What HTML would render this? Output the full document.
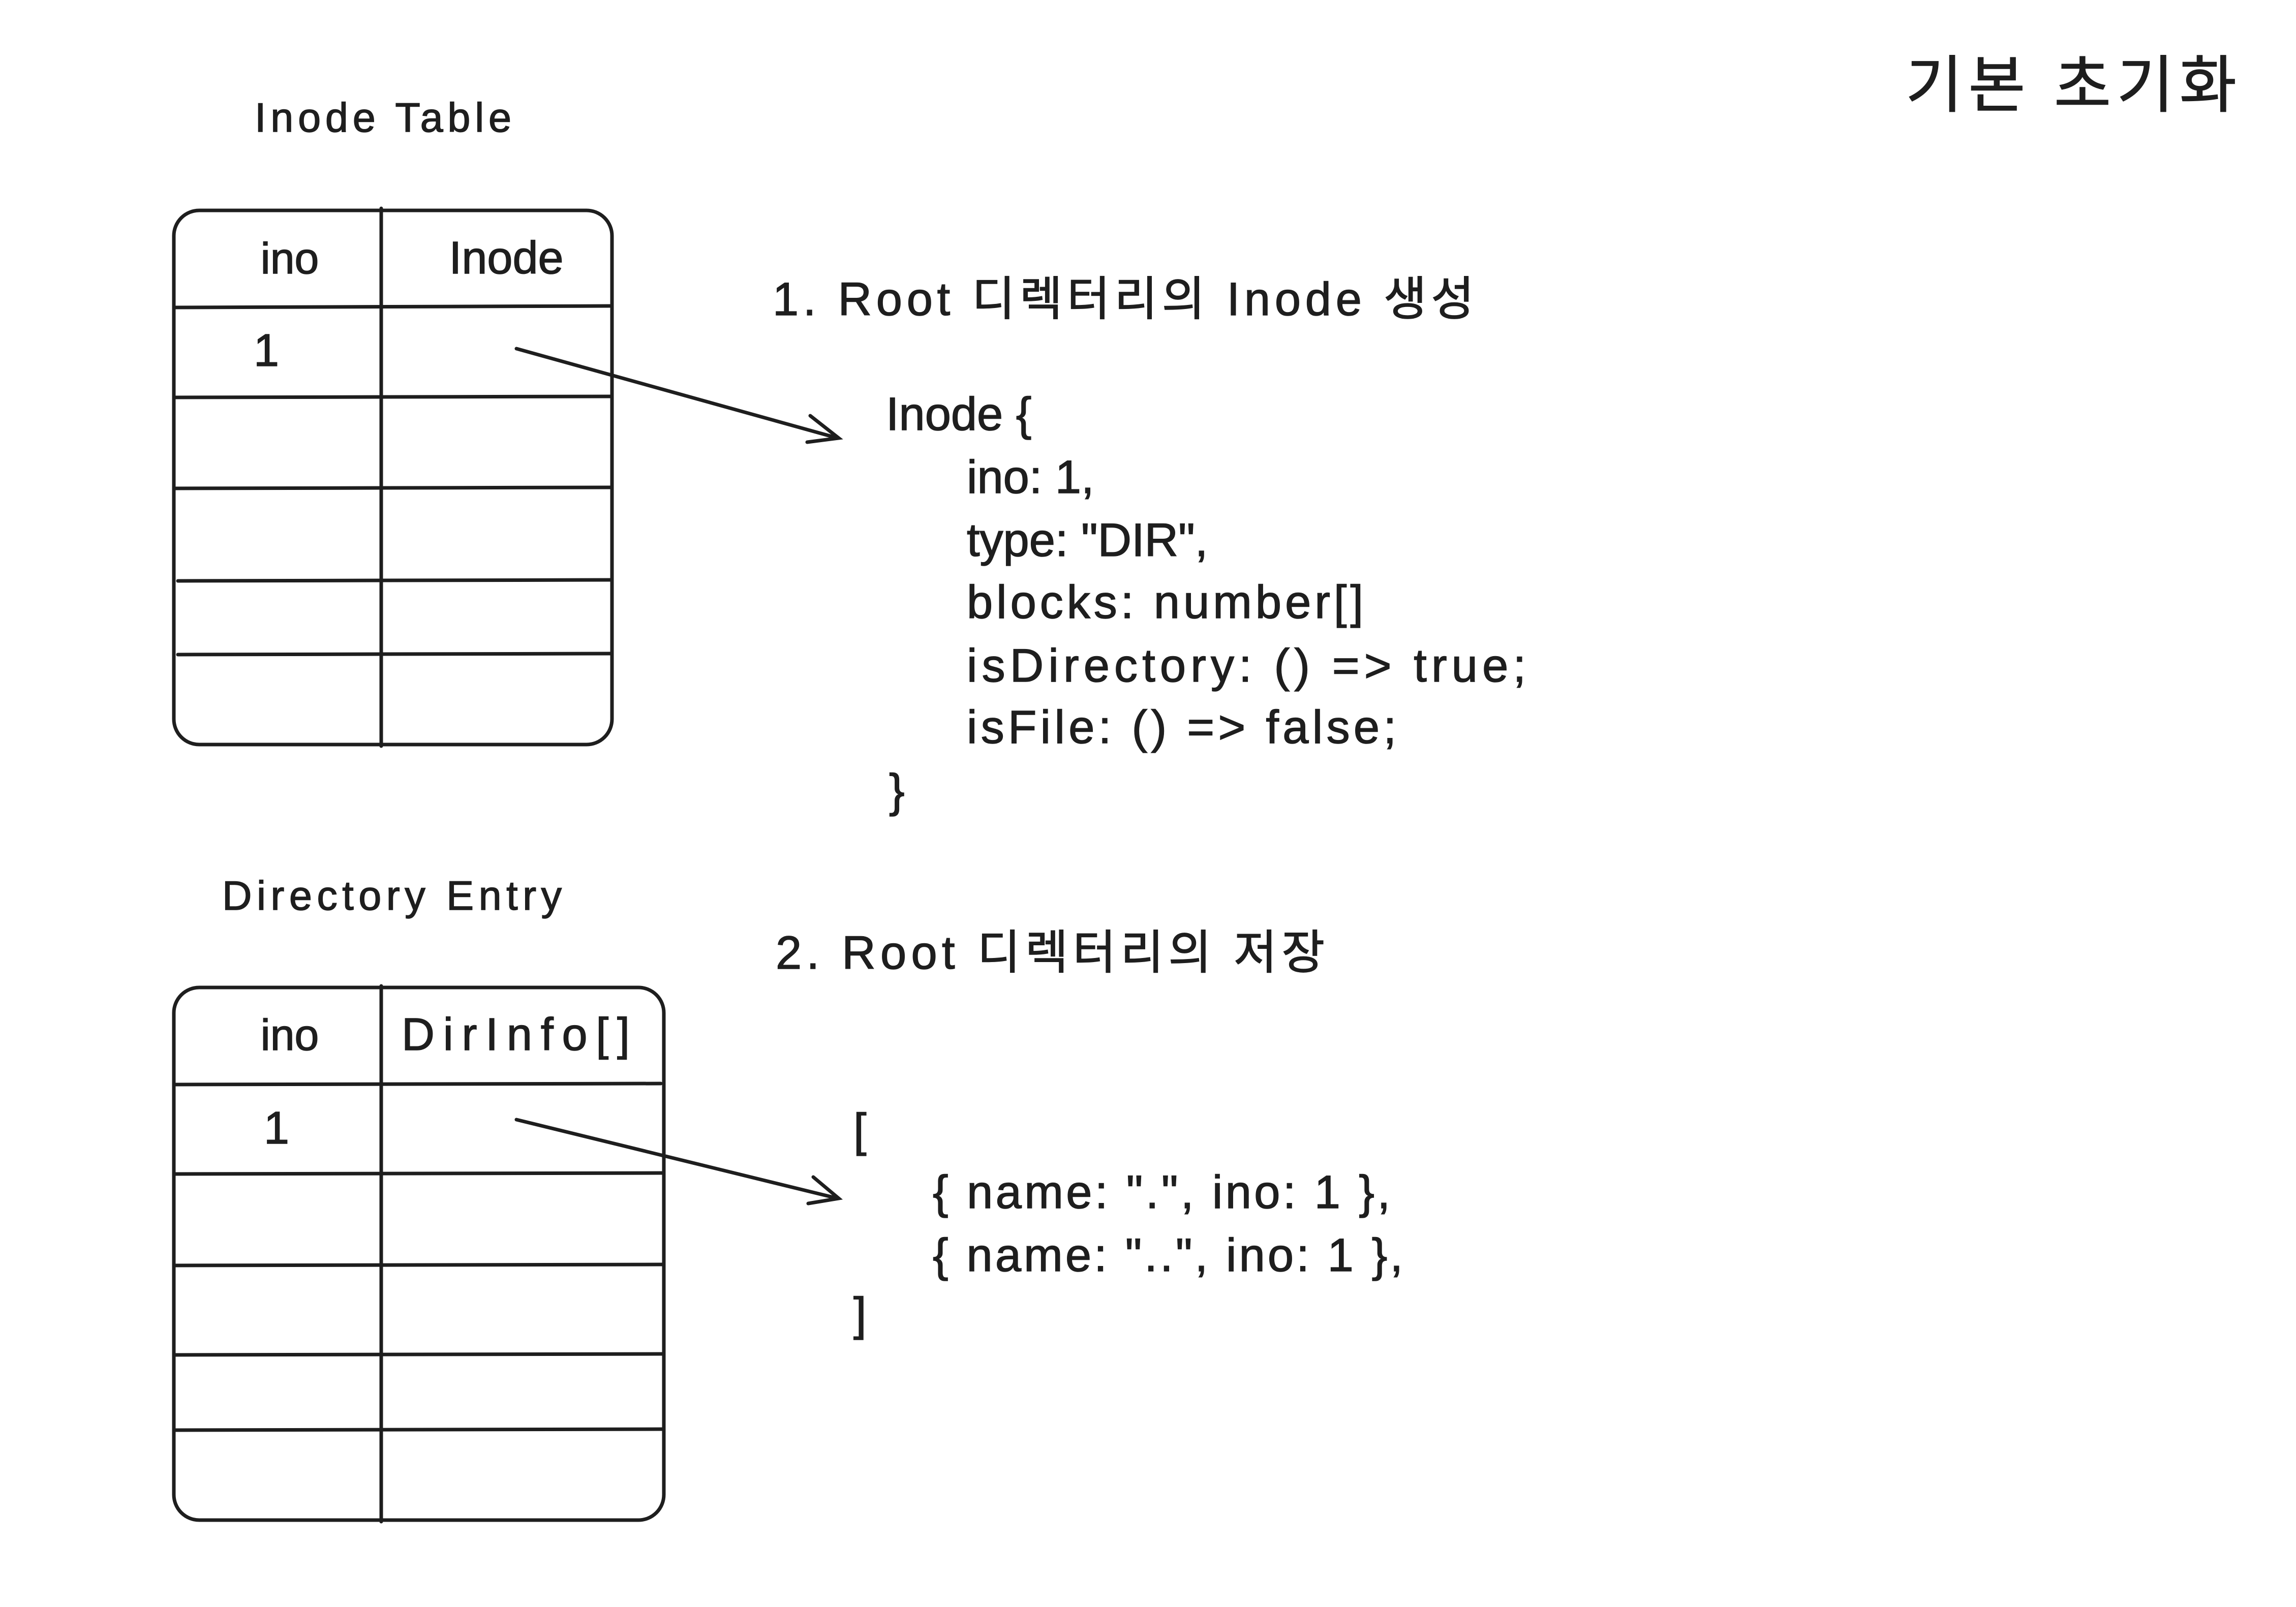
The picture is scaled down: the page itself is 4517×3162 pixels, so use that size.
<!DOCTYPE html>
<html><head><meta charset="utf-8"><style>
html,body{margin:0;padding:0;background:#fff;}
svg{display:block;}
text{font-family:"Liberation Sans","Noto Sans CJK KR",sans-serif;fill:#1e1e1e;stroke:#1e1e1e;stroke-width:1.5;}
</style></head><body>
<svg width="4517" height="3162" viewBox="0 0 4517 3162" xmlns="http://www.w3.org/2000/svg">
<g stroke="#1e1e1e" stroke-width="7" fill="none" stroke-linecap="round">
<rect x="342" y="414" width="862" height="1051" rx="50"/>
<line x1="750" y1="410" x2="750" y2="1468"/>
<line x1="342" y1="605" x2="1200" y2="602"/>
<line x1="342" y1="782" x2="1204" y2="780"/>
<line x1="342" y1="961" x2="1204" y2="959"/>
<line x1="350" y1="1143" x2="1204" y2="1141"/>
<line x1="350" y1="1288" x2="1204" y2="1286"/>
<line x1="1016" y1="686" x2="1648" y2="862"/>
<polyline points="1594,818 1650,862 1588,870"/>
<rect x="342" y="1943" width="964" height="1048" rx="50"/>
<line x1="750" y1="1940" x2="750" y2="2994"/>
<line x1="342" y1="2134" x2="1300" y2="2132"/>
<line x1="342" y1="2310" x2="1306" y2="2308"/>
<line x1="342" y1="2490" x2="1306" y2="2488"/>
<line x1="342" y1="2666" x2="1306" y2="2664"/>
<line x1="342" y1="2814" x2="1306" y2="2812"/>
<line x1="1016" y1="2203" x2="1648" y2="2358"/>
<polyline points="1600,2316 1650,2358 1590,2368"/>
</g>
<text x="501" y="259" font-size="81" textLength="505">Inode Table</text>
<text x="3749" y="210" font-size="122" textLength="651">기본 초기화</text>
<text x="570" y="538" font-size="86" text-anchor="middle">ino</text>
<text x="996" y="538" font-size="90" text-anchor="middle">Inode</text>
<text x="524" y="720" font-size="90" text-anchor="middle">1</text>
<text x="1520" y="620" font-size="92" textLength="1380">1. Root 디렉터리의 Inode 생성</text>
<g font-size="92">
<text x="1743" y="846">Inode {</text>
<text x="1902" y="970">ino: 1,</text>
<text x="1902" y="1094">type: "DIR",</text>
<text x="1902" y="1216" textLength="780">blocks: number[]</text>
<text x="1902" y="1341" textLength="1100">isDirectory: () =&gt; true;</text>
<text x="1902" y="1462" textLength="845">isFile: () =&gt; false;</text>
<text x="1749" y="1587">}</text>
</g>
<text x="437" y="1790" font-size="81" textLength="668">Directory Entry</text>
<text x="1526" y="1906" font-size="92" textLength="1080">2. Root 디렉터리의 저장</text>
<text x="570" y="2066" font-size="86" text-anchor="middle">ino</text>
<text x="790" y="2066" font-size="90" textLength="449">DirInfo[]</text>
<text x="544" y="2250" font-size="90" text-anchor="middle">1</text>
<g font-size="92">
<text x="1679" y="2255">[</text>
<text x="1835" y="2377" textLength="900">{ name: ".", ino: 1 },</text>
<text x="1835" y="2501" textLength="925">{ name: "..", ino: 1 },</text>
<text x="1679" y="2617">]</text>
</g>
</svg>
</body></html>
